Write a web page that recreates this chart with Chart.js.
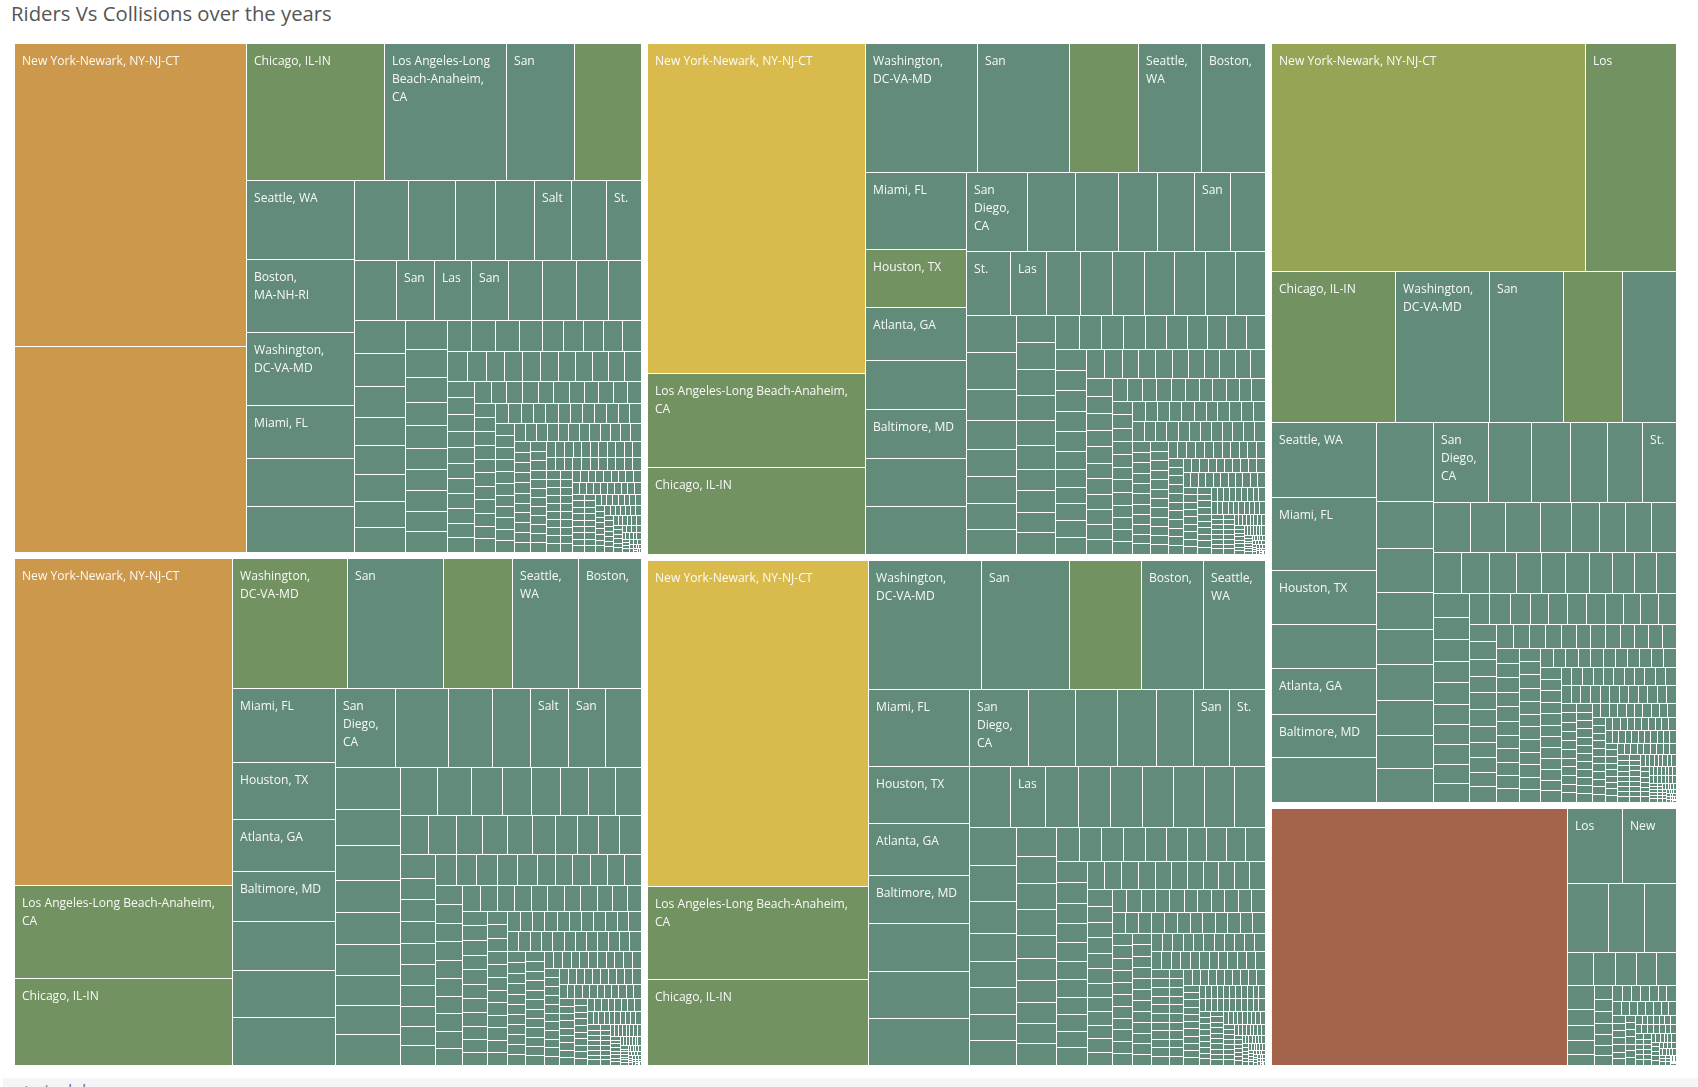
<!DOCTYPE html>
<html>
<head>
<meta charset="utf-8">
<title>Riders Vs Collisions over the years</title>
<script src="https://cdn.jsdelivr.net/npm/chart.js@4"></script>
<style>
  html, body { margin: 0; padding: 0; background: #fff; overflow: hidden; }
  body { width: 1698px; height: 1087px; position: relative; }
  #title { position: absolute; left: 11px; top: -1px; font: 20.3px "Open Sans", sans-serif; color: #555; line-height: 28px; }
  canvas { position: absolute; }
  #footer { position: absolute; left: 3px; right: 0; top: 1078px; height: 9px; background: #f5f5f5; overflow: hidden; }
  #footer span { position: absolute; left: 19px; top: 1px; font: 15px "Open Sans", sans-serif; color: #666; letter-spacing: 5px; white-space: nowrap; }
</style>
</head>
<body>
<div id="title">Riders Vs Collisions over the years</div>
<canvas id="panelA" width="626" height="508" style="left:15px;top:44px"></canvas>
<canvas id="panelB" width="617" height="510" style="left:648px;top:44px"></canvas>
<canvas id="panelC" width="626" height="506" style="left:15px;top:559px"></canvas>
<canvas id="panelD" width="617" height="504" style="left:648px;top:561px"></canvas>
<canvas id="panelE" width="404" height="758" style="left:1272px;top:44px"></canvas>
<canvas id="panelF" width="404" height="256" style="left:1272px;top:809px"></canvas>
<div id="footer"><span>+ tableau</span></div>
<script>
// colour bins for collisions, low to high
const palette = ["#628c79", "#729262", "#95a555", "#d9ba4d", "#cb984c", "#a4634b"];

// riders per urban area, one inner list per strip of the treemap
const ridersA = [
  [69500, 47000],
  [18630, 16470, 9180, 8910],
  [8480, 7740, 7740, 5620, 5090, 4770],
  [4350, 3710, 3160, 3080, 2920, 2770, 2690],
  [2520, 2280, 2220, 2220, 2040, 2040, 1920, 1920],
  [1680, 1670, 1580, 1450, 1450, 1370, 1320, 1240],
  [1220, 1160, 1050, 950, 950, 900, 885, 860, 855, 825],
  [730, 730, 730, 705, 665, 625, 615, 575, 550],
  [560, 540, 535, 515, 515, 510, 500, 480, 470, 465, 450],
  [445, 440, 435, 430, 420, 410, 405, 395, 385, 375, 365],
  [361, 343, 343, 343, 340, 335, 330, 320, 315, 305, 290],
  [300, 290, 285, 285, 280, 280, 275, 275, 270, 265, 260],
  [258, 255, 252, 250, 250, 248, 245, 240, 238, 232, 228, 225],
  [226, 224, 222, 220, 218, 216, 214, 212, 210, 208, 205],
  [200, 198, 196, 194, 192, 190, 188, 186, 184, 182, 180, 178],
  [165, 163, 162, 160, 159, 158, 157, 155, 153, 151, 149],
  [152, 150, 149, 148, 147, 146, 145, 144, 143, 142, 141, 140],
  [135, 134, 133, 132, 130, 129, 128, 127, 126, 125, 124],
  [122, 121, 120, 119, 118, 117, 116, 115, 114, 113, 112],
  [114, 113, 112, 112, 111, 111, 110, 110, 109, 108],
  [100, 99, 98, 97, 96, 96, 95, 95, 94, 93],
  [92, 91, 90, 89, 88, 87, 86, 85, 84],
  [83, 82, 81, 80, 79, 78, 77, 76, 75, 74],
  [77, 76, 76, 75, 75, 74, 74, 73, 72],
  [69, 69, 68, 68, 67, 67, 66, 66, 65],
  [63, 62, 61, 60, 60, 59, 58, 57],
  [57, 57, 56, 56, 55, 55, 54, 54],
  [54, 53, 53, 52, 52, 51, 51],
  [47, 46, 46, 45, 45, 44, 43],
  [44, 43, 42, 42, 41, 40],
  [39, 38, 37, 36, 35, 34],
  [34, 33, 32, 32],
  [28, 28, 27, 27, 26],
  [24, 23, 22, 21],
  [18, 17, 16],
  [14, 13],
  [10, 9, 8],
  [6, 5],
  [4, 3]
];
const ridersB = [
  [70800, 20100, 18400],
  [14220, 11730, 8760, 8030, 7940],
  [7700, 5750, 5340, 4900, 4900, 4850, 4650],
  [4730, 3720, 3330, 3020, 2870, 2790, 2640],
  [2750, 2240, 2130, 2030, 2000, 1930, 1930, 1850, 1850],
  [1825, 1790, 1540, 1390, 1340, 1305, 1290, 1155],
  [1070, 1040, 1000, 990, 950, 935, 840, 830, 800, 800],
  [800, 755, 730, 730, 725, 690, 675, 660, 650, 620],
  [640, 630, 630, 620, 590, 560, 540, 510, 510, 505, 500],
  [505, 500, 480, 480, 470, 470, 445, 445, 445, 420, 410],
  [440, 430, 420, 410, 405, 395, 385, 375, 370, 365, 360],
  [340, 335, 325, 320, 315, 310, 305, 300, 295, 285, 280],
  [275, 272, 268, 265, 262, 260, 258, 255, 252, 250, 245, 240],
  [250, 249, 248, 246, 244, 242, 240, 238, 236, 234, 232],
  [224, 222, 220, 219, 217, 215, 213, 212, 210, 208, 206, 204],
  [188, 187, 186, 185, 184, 182, 180, 178, 176, 174, 172],
  [170, 169, 168, 167, 166, 165, 164, 163, 162, 161, 160, 158],
  [148, 147, 146, 145, 143, 142, 141, 140, 139, 138, 137],
  [128, 127, 126, 126, 125, 124, 124, 123, 122, 121, 120],
  [118, 117, 116, 115, 115, 114, 114, 113, 112, 111],
  [110, 109, 109, 108, 108, 107, 107, 106, 106, 105, 104],
  [104, 104, 103, 103, 103, 102, 102, 101, 100],
  [96, 95, 94, 93, 92, 92, 91, 90, 89, 88],
  [85, 84, 83, 82, 81, 80, 79, 78, 77],
  [72, 71, 70, 70, 69, 68, 67, 66, 65, 64],
  [62, 61, 60, 60, 59, 58, 57, 56],
  [53, 52, 52, 51, 50, 49, 48, 47],
  [46, 45, 44, 43, 42, 41, 40, 39],
  [38, 37, 36, 35, 34, 33, 32, 31],
  [30, 29, 28, 27, 26, 25, 24],
  [23, 22, 21, 20, 19, 18, 17],
  [15, 15, 14, 14, 13],
  [13, 12, 12, 11],
  [11, 10, 10, 9],
  [9, 8, 8],
  [7, 7],
  [6, 6],
  [5, 4],
  [3, 2]
];
const ridersC = [
  [69800, 19900, 18400],
  [14660, 12230, 8880, 8410, 7860],
  [7430, 5780, 5330, 5060, 4920, 4820, 4720],
  [4580, 4150, 3370, 3010, 2910, 2840, 2750],
  [2630, 2330, 2200, 2070, 2010, 1990, 1900, 1890, 1880],
  [1700, 1570, 1430, 1370, 1330, 1330, 1270, 1140],
  [1075, 1060, 995, 995, 945, 880, 850, 830, 815, 800],
  [790, 735, 735, 730, 730, 720, 710, 665, 650, 630],
  [630, 630, 630, 620, 605, 540, 525, 525, 515, 515, 500],
  [505, 505, 500, 500, 500, 480, 470, 465, 455, 445],
  [440, 420, 420, 420, 410, 410, 410, 410, 390, 355, 335],
  [350, 348, 346, 345, 340, 335, 330, 325, 312, 306, 290],
  [270, 268, 266, 262, 258, 255, 253, 251, 248, 246, 244, 240],
  [252, 251, 250, 248, 246, 244, 242, 240, 238, 236, 232],
  [228, 226, 225, 224, 223, 221, 220, 219, 217, 215, 213, 212],
  [192, 191, 190, 188, 187, 186, 184, 182, 180, 178, 176],
  [172, 171, 170, 169, 168, 167, 166, 165, 164, 163, 162, 160],
  [150, 149, 148, 147, 146, 145, 144, 143, 142, 141, 140],
  [140, 139, 138, 137, 136, 135, 134, 133, 132, 131, 130],
  [124, 123, 122, 121, 120, 120, 119, 118, 117, 116],
  [108, 107, 107, 106, 106, 105, 105, 104, 104, 103, 102],
  [105, 104, 104, 103, 103, 102, 102, 101, 100],
  [92, 91, 90, 90, 89, 88, 88, 87, 86, 85],
  [88, 87, 86, 85, 84, 83, 82, 81],
  [70, 69, 68, 68, 67, 67, 66, 65, 65, 64],
  [62, 61, 60, 60, 59, 58, 57, 56],
  [53, 52, 52, 51, 50, 49, 48, 47],
  [46, 45, 44, 43, 42, 41, 40, 39],
  [38, 37, 36, 35, 34, 33, 32, 31],
  [30, 29, 28, 27, 26, 25, 24],
  [23, 22, 21, 20, 19, 18, 17],
  [15, 15, 14, 14, 13],
  [13, 12, 12, 11],
  [11, 10, 10, 9],
  [9, 8, 8],
  [7, 7],
  [6, 6],
  [5, 4],
  [3, 2]
];
const ridersD = [
  [70800, 20330, 18400],
  [14200, 11250, 9020, 7930, 7670],
  [7550, 5610, 5140, 4710, 4680, 4610, 4570],
  [4530, 3540, 3160, 3010, 2790, 2690, 2670],
  [2490, 2100, 1970, 1970, 1900, 1850, 1850, 1850, 1780],
  [1750, 1700, 1470, 1295, 1240, 1240, 1230, 1105],
  [1105, 1040, 1040, 990, 885, 880, 845, 805, 800, 800],
  [795, 730, 725, 725, 725, 685, 645, 645, 640, 640],
  [635, 635, 600, 600, 570, 550, 530, 530, 510, 510, 505],
  [490, 465, 465, 455, 455, 445, 430, 425, 420, 420, 420],
  [405, 390, 390, 390, 370, 360, 360, 345, 345, 325, 325, 305],
  [325, 320, 315, 312, 310, 305, 300, 298, 296, 290, 285],
  [270, 268, 266, 264, 262, 260, 258, 256, 254, 252, 250, 248],
  [248, 245, 242, 240, 237, 235, 233, 231, 229, 227, 225],
  [225, 222, 218, 216, 214, 212, 210, 208, 206, 204, 202, 200],
  [192, 191, 190, 189, 188, 187, 186, 185, 184, 183, 181],
  [172, 171, 170, 169, 168, 167, 166, 165, 164, 163, 162, 161],
  [150, 149, 148, 147, 147, 146, 145, 144, 143, 142, 141],
  [126, 125, 125, 124, 124, 123, 122, 122, 121, 121, 120],
  [125, 124, 123, 122, 122, 121, 120, 120, 119, 118],
  [111, 110, 110, 109, 109, 108, 108, 107, 107, 106, 105],
  [84, 83, 82, 81, 80, 80, 79, 78, 77, 76, 75],
  [78, 77, 76, 75, 74, 73, 72, 72, 71, 70, 69],
  [72, 71, 70, 70, 69, 69, 68, 67, 66],
  [68, 67, 66, 66, 65, 65, 64, 63, 62, 61],
  [61, 60, 59, 58, 57, 56, 55, 54, 53],
  [56, 55, 54, 54, 53, 52, 51, 50],
  [45, 44, 43, 42, 41, 40, 39, 38],
  [36, 35, 34, 33, 32, 31, 30],
  [29, 28, 28, 27, 26, 25, 24],
  [23, 23, 22, 21, 20, 20],
  [19, 18, 18, 17, 16, 16],
  [15, 15, 14, 14, 13],
  [13, 12, 12, 11],
  [11, 10, 10, 9],
  [9, 8, 8],
  [7, 7],
  [6, 6],
  [5, 4],
  [3, 2]
];
const ridersE = [
  [70600, 20300],
  [18500, 14050, 11050, 8800, 7900],
  [7750, 7540, 5550, 4610, 4770, 4510, 4510],
  [4400, 2600, 2430, 2060, 1975, 2000, 1920, 1830, 1860],
  [4375, 3350, 3120, 2880, 2725, 2620],
  [1860, 1710, 1710, 1565, 1365, 1270, 1270, 1200],
  [1170, 1130, 1090, 1005, 1005, 965, 925, 885, 885, 790],
  [850, 775, 775, 755, 755, 740, 700, 700, 665, 650],
  [620, 610, 590, 560, 560, 560, 560, 530, 530, 530, 500],
  [490, 475, 465, 465, 465, 450, 435, 420, 405, 405, 405],
  [400, 375, 375, 370, 360, 350, 350, 345, 335, 335, 320, 320],
  [325, 320, 320, 315, 310, 305, 300, 295, 290, 285, 280],
  [285, 283, 280, 278, 275, 272, 270, 268, 265, 262, 260, 258],
  [245, 244, 243, 240, 238, 237, 235, 234, 232, 230, 228],
  [238, 236, 234, 232, 230, 228, 226, 224, 222, 220, 218, 216],
  [192, 191, 190, 189, 188, 187, 186, 185, 184, 183, 182],
  [172, 171, 170, 169, 168, 167, 166, 165, 164, 163, 162, 160],
  [140, 139, 138, 137, 136, 135, 134, 133, 132, 131, 130],
  [130, 129, 128, 128, 127, 126, 126, 125, 124, 123, 122, 121],
  [116, 115, 114, 114, 113, 113, 112, 111, 110, 109],
  [104, 103, 103, 102, 102, 101, 100, 100, 99, 98, 98],
  [93, 92, 91, 90, 90, 89, 88, 88, 87, 86],
  [84, 83, 83, 82, 82, 81, 80, 80, 79, 78, 77],
  [80, 79, 79, 78, 78, 77, 77, 76, 75],
  [76, 75, 75, 74, 74, 73, 73, 72, 71],
  [65, 64, 63, 62, 62, 61, 60, 59, 58],
  [58, 57, 57, 56, 56, 55, 54, 54, 53],
  [53, 52, 52, 51, 51, 50, 49, 48],
  [48, 47, 46, 45, 45, 44, 43],
  [36, 35, 34, 33, 32, 31, 30],
  [29, 28, 28, 27, 26, 25, 24],
  [23, 23, 22, 21, 20, 20],
  [19, 18, 18, 17, 16, 16],
  [15, 15, 14, 14, 13],
  [13, 12, 12, 11],
  [11, 10, 10, 9],
  [9, 8, 8],
  [7, 7],
  [6, 6],
  [5, 4],
  [3, 2]
];
const ridersF = [
  [75300],
  [4070, 3970],
  [2765, 2425, 2130],
  [865, 730, 695, 672, 640],
  [640, 423, 396, 369, 280],
  [246, 210, 210, 192, 192, 174, 168],
  [150, 145, 142, 142, 142, 140, 135],
  [112, 110, 105, 103, 100, 100, 96, 92],
  [100, 98, 90, 90, 90, 80, 78],
  [76, 74, 72, 72, 70, 70, 68],
  [60, 56, 54, 54, 52, 52, 50],
  [56, 54, 54, 52, 50, 48, 46],
  [44, 42, 42, 40, 40, 38],
  [42, 41, 40, 40, 39, 38],
  [34, 33, 32, 32, 31, 30],
  [35, 34, 33, 32, 31],
  [29, 28, 27, 26],
  [23, 22, 21, 20, 19],
  [22, 20, 18],
  [15, 14, 12],
  [10, 9, 8, 7],
  [6, 5, 4]
];

// strip direction for each panel: c = column on the left, r = row on top
const flowA = "crcrrccrrcrcrcrccrrccrrccrcrcrcrrc";
const flowB = "crcrrccrcrcrcrrccrcrrccrrccr";
const flowC = "crcrcrrcrcrccrrccrcrrccrrc";
const flowD = "crcrrccrcrcrrccrrccrcrrccrc";
const flowE = "rrccrrrcrcrccrcrrccrcrrcrccrc";
const flowF = "crrrccrrccrrccrcrrc";

const labelsA = [
  ["New York-Newark, NY-NJ-CT", ""],
  ["Chicago, IL-IN", "Los Angeles-Long\nBeach-Anaheim,\nCA", "San", ""],
  ["Seattle, WA", "Boston,\nMA-NH-RI", "Washington,\nDC-VA-MD", "Miami, FL"],
  ["", "", "", "", "Salt", "", "St."],
  ["", "San", "Las", "San"]
];
const labelsB = [
  ["New York-Newark, NY-NJ-CT", "Los Angeles-Long Beach-Anaheim,\nCA", "Chicago, IL-IN"],
  ["Washington,\nDC-VA-MD", "San", "", "Seattle,\nWA", "Boston,"],
  ["Miami, FL", "Houston, TX", "Atlanta, GA", "", "Baltimore, MD"],
  ["San\nDiego,\nCA", "", "", "", "", "San"],
  ["St.", "Las"]
];
const labelsC = [
  ["New York-Newark, NY-NJ-CT", "Los Angeles-Long Beach-Anaheim,\nCA", "Chicago, IL-IN"],
  ["Washington,\nDC-VA-MD", "San", "", "Seattle,\nWA", "Boston,"],
  ["Miami, FL", "Houston, TX", "Atlanta, GA", "Baltimore, MD"],
  ["San\nDiego,\nCA", "", "", "", "Salt", "San"]
];
const labelsD = [
  ["New York-Newark, NY-NJ-CT", "Los Angeles-Long Beach-Anaheim,\nCA", "Chicago, IL-IN"],
  ["Washington,\nDC-VA-MD", "San", "", "Boston,", "Seattle,\nWA"],
  ["Miami, FL", "Houston, TX", "Atlanta, GA", "Baltimore, MD"],
  ["San\nDiego,\nCA", "", "", "", "", "San", "St."],
  ["", "Las"]
];
const labelsE = [
  ["New York-Newark, NY-NJ-CT", "Los"],
  ["Chicago, IL-IN", "Washington,\nDC-VA-MD", "San"],
  ["Seattle, WA", "Miami, FL", "Houston, TX", "", "Atlanta, GA", "Baltimore, MD"],
  [],
  ["San\nDiego,\nCA", "", "", "", "", "St."]
];
const labelsF = [
  [""],
  ["Los", "New"]
];

// collision bin per cell, anything not listed is bin 0
const binsA = [[4, 4], [1, 0, 0, 1]];
const binsB = [[3, 1, 1], [0, 0, 1, 0, 0], [0, 1]];
const binsC = [[4, 1, 1], [1, 0, 1, 0, 0]];
const binsD = [[3, 1, 1], [0, 0, 1, 0, 0]];
const binsE = [[2, 1], [1, 0, 0, 1, 0]];
const binsF = [[5]];

// splits the unit square into strips; direction comes from flow, else the shorter side
function layoutStrips(strips, flow, pxW, pxH) {
  let remain = strips.flat().reduce((a, b) => a + b, 0);
  let box = { x: 0, y: 0, w: 1, h: 1 };
  const rects = [];
  strips.forEach((strip, i) => {
    const sum = strip.reduce((a, b) => a + b, 0);
    const frac = sum / remain;
    const dir = flow[i] || (box.w * pxW >= box.h * pxH ? "c" : "r");
    if (dir === "c") {
      const w = box.w * frac;
      let y = box.y;
      strip.forEach((v) => {
        const h = (box.h * v) / sum;
        rects.push({ x: box.x, y: y, w: w, h: h });
        y += h;
      });
      box = { x: box.x + w, y: box.y, w: box.w - w, h: box.h };
    } else {
      const h = box.h * frac;
      let x = box.x;
      strip.forEach((v) => {
        const w = (box.w * v) / sum;
        rects.push({ x: x, y: box.y, w: w, h: h });
        x += w;
      });
      box = { x: box.x, y: box.y + h, w: box.w, h: box.h - h };
    }
    remain -= sum;
  });
  return rects;
}

class TreemapController extends Chart.DatasetController {
  update(mode) {
    const meta = this._cachedMeta;
    this.updateElements(meta.data, 0, meta.data.length, mode);
  }

  updateElements(elements, start, count, mode) {
    const area = this.chart.chartArea;
    if (!area) return; // first pass runs before the layout
    const ds = this.getDataset();
    const xs = this._cachedMeta.xScale;
    const ys = this._cachedMeta.yScale;
    const rects = layoutStrips(ds.strips, ds.flow, area.right - area.left, area.bottom - area.top);
    this.cellRects = [];
    for (let i = start; i < start + count; i++) {
      const r = rects[i];
      const left = Math.round(xs.getPixelForValue(r.x));
      const top = Math.round(ys.getPixelForValue(r.y));
      let right = Math.round(xs.getPixelForValue(r.x + r.w));
      let bottom = Math.round(ys.getPixelForValue(r.y + r.h));
      // 1px white gap between neighbours, none on the panel edge
      if (right < area.right) right -= 1;
      if (bottom < area.bottom) bottom -= 1;
      this.cellRects[i] = { left: left, top: top };
      this.updateElement(elements[i], i, {
        horizontal: false,
        borderSkipped: {},
        enableBorderRadius: false,
        inflateAmount: 0,
        x: (left + right) / 2,
        width: Math.max(right - left, 0),
        y: top,
        base: bottom,
        height: bottom - top,
        options: this.resolveDataElementOptions(i, mode),
      }, mode);
    }
  }

  draw() {
    super.draw();
    const ctx = this.chart.ctx;
    const ds = this.getDataset();
    ctx.save();
    ctx.fillStyle = "rgba(255,255,255,0.95)";
    ctx.font = '12.1px "Open Sans", sans-serif';
    ctx.textBaseline = "middle";
    let offset = 0;
    ds.strips.forEach((strip, s) => {
      (ds.labels[s] || []).forEach((name, k) => {
        const cell = this.cellRects[offset + k];
        name.split("\n").forEach((line, n) => {
          ctx.fillText(line, cell.left + 7, cell.top + 18 + n * 18);
        });
      });
      offset += strip.length;
    });
    ctx.restore();
  }
}
TreemapController.id = "treemap";
TreemapController.defaults = { dataElementType: "bar", datasetElementType: false };
Chart.register(TreemapController);

function drawPanel(id, strips, flow, labels, bins) {
  const colours = strips.map((strip, i) =>
    strip.map((v, k) => palette[bins[i] && bins[i][k] ? bins[i][k] : 0])
  );
  return new Chart(document.getElementById(id), {
    type: "treemap",
    data: {
      labels: strips.flat().map((v, i) => i),
      datasets: [
        {
          label: "Riders",
          data: strips.flat(),
          strips: strips,
          flow: flow,
          labels: labels,
          backgroundColor: colours.flat(),
          borderWidth: 0,
          borderSkipped: false,
        },
      ],
    },
    options: {
      responsive: false,
      animation: false,
      devicePixelRatio: 1,
      layout: { padding: 0 },
      plugins: { legend: { display: false }, tooltip: { enabled: false }, title: { display: false } },
      scales: {
        x: { type: "linear", min: 0, max: 1, display: false },
        y: { type: "linear", min: 0, max: 1, reverse: true, display: false },
      },
    },
  });
}

drawPanel("panelA", ridersA, flowA, labelsA, binsA);
drawPanel("panelB", ridersB, flowB, labelsB, binsB);
drawPanel("panelC", ridersC, flowC, labelsC, binsC);
drawPanel("panelD", ridersD, flowD, labelsD, binsD);
drawPanel("panelE", ridersE, flowE, labelsE, binsE);
drawPanel("panelF", ridersF, flowF, labelsF, binsF);
</script>
</body>
</html>
